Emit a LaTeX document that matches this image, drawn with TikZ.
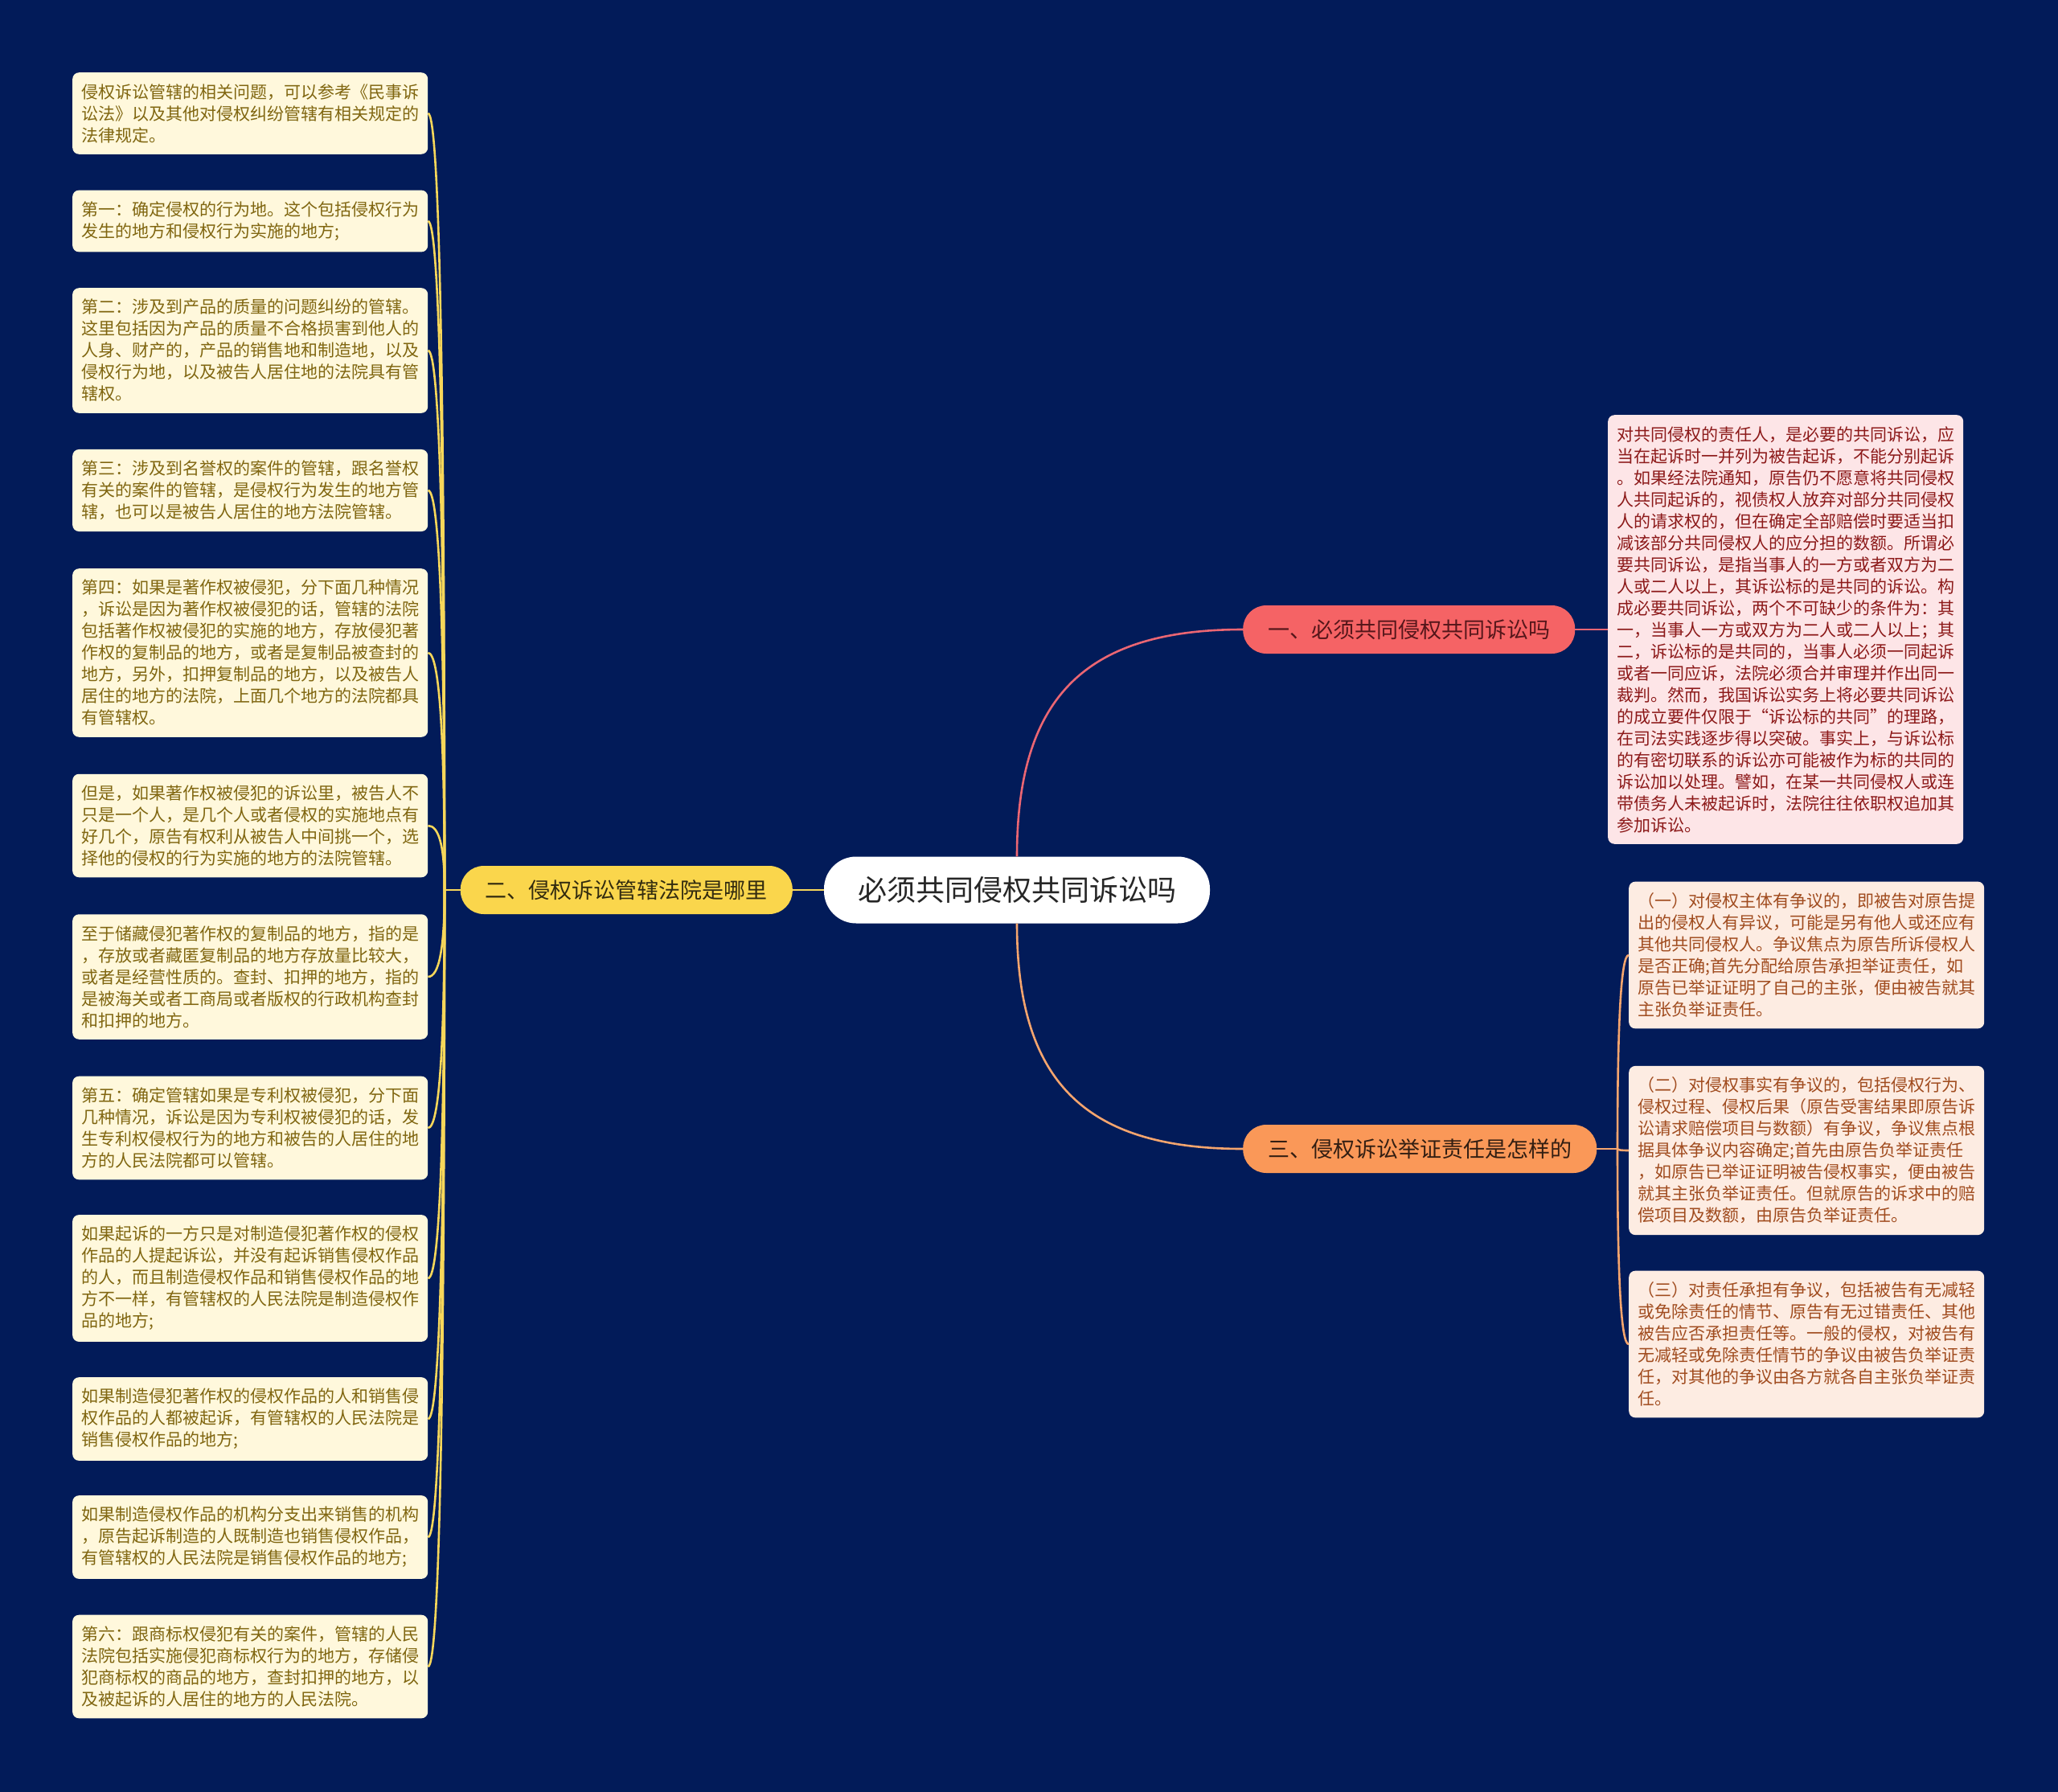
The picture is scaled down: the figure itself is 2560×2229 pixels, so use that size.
\documentclass[tikz,border=0pt]{standalone}
\usepackage{fontspec}
\newfontfamily\cjk{Noto Sans CJK SC}
\usepackage{tikz}
\usetikzlibrary{positioning, calc}
\usepackage{xcolor}
\setlength{\parindent}{0pt}

\definecolor{bgnavy}{RGB}{2,27,89}
\definecolor{yfill}{RGB}{250,214,76}
\definecolor{yline}{RGB}{247,215,90}
\definecolor{yleaf}{RGB}{255,248,220}
\definecolor{ytext}{RGB}{128,102,16}
\definecolor{rfill}{RGB}{245,99,101}
\definecolor{rdark}{RGB}{85,22,26}
\definecolor{rline}{RGB}{235,102,115}
\definecolor{rleaf}{RGB}{253,229,231}
\definecolor{rtext}{RGB}{140,25,25}
\definecolor{ofill}{RGB}{250,152,88}
\definecolor{oline}{RGB}{245,165,110}
\definecolor{oleaf}{RGB}{253,236,226}
\definecolor{otext}{RGB}{160,75,30}

\tikzset{
  leafbox/.style={rounded corners=8pt, anchor=west, align=left, text width=420pt,
    inner xsep=11pt, inner ysep=14pt, font={\cjk\fontsize{21pt}{27pt}\selectfont}},
  branchbox/.style={rounded corners=29pt, minimum height=60pt, inner xsep=31pt,
    font={\cjk\fontsize{27pt}{32pt}\selectfont}},
  conn/.style={line width=2.6pt},
}

\begin{document}
\begin{tikzpicture}[x=1pt, y=-1pt]
  \fill[bgnavy] (0,0) rectangle (2560,2229);

  % centre and main branches
  \node[fill=white, text=black!85, rounded corners=40pt, minimum height=83pt, inner xsep=42pt,
    font={\cjk\fontsize{36pt}{40pt}\selectfont}] (root) at (1265,1107) {必须共同侵权共同诉讼吗};
  \node[branchbox, fill=yfill, text=black!80!yfill, anchor=east] (b2) at (986,1107) {二、侵权诉讼管辖法院是哪里};
  \node[branchbox, fill=rfill, text=rdark, anchor=west] (b1) at (1546,783) {一、必须共同侵权共同诉讼吗};
  \node[branchbox, fill=ofill, text=black!80!ofill, anchor=west] (b3) at (1546,1429) {三、侵权诉讼举证责任是怎样的};

  % left leaves
  \node[leafbox, fill=yleaf, text=ytext] (L1) at (90,141) {侵权诉讼管辖的相关问题，可以参考《民事诉\\讼法》以及其他对侵权纠纷管辖有相关规定的\\法律规定。};
  \node[leafbox, fill=yleaf, text=ytext] (L2) at (90,275) {第一：确定侵权的行为地。这个包括侵权行为\\发生的地方和侵权行为实施的地方;};
  \node[leafbox, fill=yleaf, text=ytext] (L3) at (90,436) {第二：涉及到产品的质量的问题纠纷的管辖。\\这里包括因为产品的质量不合格损害到他人的\\人身、财产的，产品的销售地和制造地，以及\\侵权行为地，以及被告人居住地的法院具有管\\辖权。};
  \node[leafbox, fill=yleaf, text=ytext] (L4) at (90,610) {第三：涉及到名誉权的案件的管辖，跟名誉权\\有关的案件的管辖，是侵权行为发生的地方管\\辖，也可以是被告人居住的地方法院管辖。};
  \node[leafbox, fill=yleaf, text=ytext] (L5) at (90,812) {第四：如果是著作权被侵犯，分下面几种情况\\，诉讼是因为著作权被侵犯的话，管辖的法院\\包括著作权被侵犯的实施的地方，存放侵犯著\\作权的复制品的地方，或者是复制品被查封的\\地方，另外，扣押复制品的地方，以及被告人\\居住的地方的法院，上面几个地方的法院都具\\有管辖权。};
  \node[leafbox, fill=yleaf, text=ytext] (L6) at (90,1027) {但是，如果著作权被侵犯的诉讼里，被告人不\\只是一个人，是几个人或者侵权的实施地点有\\好几个，原告有权利从被告人中间挑一个，选\\择他的侵权的行为实施的地方的法院管辖。};
  \node[leafbox, fill=yleaf, text=ytext] (L7) at (90,1215) {至于储藏侵犯著作权的复制品的地方，指的是\\，存放或者藏匿复制品的地方存放量比较大，\\或者是经营性质的。查封、扣押的地方，指的\\是被海关或者工商局或者版权的行政机构查封\\和扣押的地方。};
  \node[leafbox, fill=yleaf, text=ytext] (L8) at (90,1403) {第五：确定管辖如果是专利权被侵犯，分下面\\几种情况，诉讼是因为专利权被侵犯的话，发\\生专利权侵权行为的地方和被告的人居住的地\\方的人民法院都可以管辖。};
  \node[leafbox, fill=yleaf, text=ytext] (L9) at (90,1590) {如果起诉的一方只是对制造侵犯著作权的侵权\\作品的人提起诉讼，并没有起诉销售侵权作品\\的人，而且制造侵权作品和销售侵权作品的地\\方不一样，有管辖权的人民法院是制造侵权作\\品的地方;};
  \node[leafbox, fill=yleaf, text=ytext] (L10) at (90,1765) {如果制造侵犯著作权的侵权作品的人和销售侵\\权作品的人都被起诉，有管辖权的人民法院是\\销售侵权作品的地方;};
  \node[leafbox, fill=yleaf, text=ytext] (L11) at (90,1912) {如果制造侵权作品的机构分支出来销售的机构\\，原告起诉制造的人既制造也销售侵权作品，\\有管辖权的人民法院是销售侵权作品的地方;};
  \node[leafbox, fill=yleaf, text=ytext] (L12) at (90,2073) {第六：跟商标权侵犯有关的案件，管辖的人民\\法院包括实施侵犯商标权行为的地方，存储侵\\犯商标权的商品的地方，查封扣押的地方，以\\及被起诉的人居住的地方的人民法院。};

  % right leaves
  \node[leafbox, fill=rleaf, text=rtext] (r1) at (2000,783) {对共同侵权的责任人，是必要的共同诉讼，应\\当在起诉时一并列为被告起诉，不能分别起诉\\。如果经法院通知，原告仍不愿意将共同侵权\\人共同起诉的，视债权人放弃对部分共同侵权\\人的请求权的，但在确定全部赔偿时要适当扣\\减该部分共同侵权人的应分担的数额。所谓必\\要共同诉讼，是指当事人的一方或者双方为二\\人或二人以上，其诉讼标的是共同的诉讼。构\\成必要共同诉讼，两个不可缺少的条件为：其\\一，当事人一方或双方为二人或二人以上；其\\二，诉讼标的是共同的，当事人必须一同起诉\\或者一同应诉，法院必须合并审理并作出同一\\裁判。然而，我国诉讼实务上将必要共同诉讼\\的成立要件仅限于“诉讼标的共同”的理路，\\在司法实践逐步得以突破。事实上，与诉讼标\\的有密切联系的诉讼亦可能被作为标的共同的\\诉讼加以处理。譬如，在某一共同侵权人或连\\带债务人未被起诉时，法院往往依职权追加其\\参加诉讼。};
  \node[leafbox, fill=oleaf, text=otext] (o1) at (2026,1188) {（一）对侵权主体有争议的，即被告对原告提\\出的侵权人有异议，可能是另有他人或还应有\\其他共同侵权人。争议焦点为原告所诉侵权人\\是否正确;首先分配给原告承担举证责任，如\\原告已举证证明了自己的主张，便由被告就其\\主张负举证责任。};
  \node[leafbox, fill=oleaf, text=otext] (o2) at (2026,1431) {（二）对侵权事实有争议的，包括侵权行为、\\侵权过程、侵权后果（原告受害结果即原告诉\\讼请求赔偿项目与数额）有争议，争议焦点根\\据具体争议内容确定;首先由原告负举证责任\\，如原告已举证证明被告侵权事实，便由被告\\就其主张负举证责任。但就原告的诉求中的赔\\偿项目及数额，由原告负举证责任。};
  \node[leafbox, fill=oleaf, text=otext] (o3) at (2026,1672) {（三）对责任承担有争议，包括被告有无减轻\\或免除责任的情节、原告有无过错责任、其他\\被告应否承担责任等。一般的侵权，对被告有\\无减轻或免除责任情节的争议由被告负举证责\\任，对其他的争议由各方就各自主张负举证责\\任。};

  % connectors
  \coordinate (ytrunk) at (553,1107);
  \coordinate (otrunk) at (2012,1429);
  \draw[conn, yline] (root.west) -- (b2.east);
  \draw[conn, yline] (b2.west) -- (ytrunk);
  \foreach \i in {1,...,12}
    \draw[conn, yline] (ytrunk) .. controls ($(ytrunk)!0.67!(ytrunk |- L\i.east)$) and ($(L\i.east)!0.67!(ytrunk |- L\i.east)$) .. (L\i.east);
  \draw[conn, rline] (root.north) .. controls ($(root.north)!0.7!(root.north |- b1.west)$) and ($(b1.west)!0.7!(root.north |- b1.west)$) .. (b1.west);
  \draw[conn, rline] (b1.east) -- (r1.west);
  \draw[conn, oline] (root.south) .. controls ($(root.south)!0.7!(root.south |- b3.west)$) and ($(b3.west)!0.7!(root.south |- b3.west)$) .. (b3.west);
  \draw[conn, oline] (b3.east) -- (otrunk);
  \foreach \i in {1,2,3}
    \draw[conn, oline] (otrunk) .. controls ($(otrunk)!0.67!(otrunk |- o\i.west)$) and ($(o\i.west)!0.67!(otrunk |- o\i.west)$) .. (o\i.west);
\end{tikzpicture}
\end{document}
